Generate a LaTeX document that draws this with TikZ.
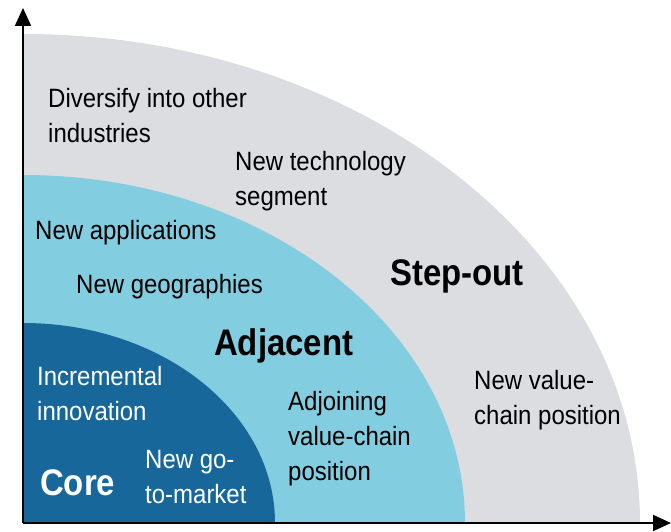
\documentclass[tikz,border=0pt]{standalone}
\usepackage{fontspec}
\setmainfont[FakeStretch=0.905]{Liberation Sans}
\newfontfamily\labfont[FakeStretch=0.89]{Liberation Sans Bold}
\usetikzlibrary{arrows.meta}
\definecolor{stepgray}{RGB}{220,221,225}
\definecolor{adjblue}{RGB}{131,205,224}
\definecolor{coreblue}{RGB}{23,103,154}
\tikzset{
  txt/.style={anchor=base west, inner sep=0pt, align=left, text=black,
    font=\fontsize{26.5}{35}\selectfont},
  wtxt/.style={txt, text=white},
  lab/.style={anchor=base west, inner sep=0pt, font=\labfont\fontsize{37}{40}\selectfont},
  axis/.style={line width=2pt, -{Triangle[length=18pt,width=16pt]}}
}
\begin{document}
\begin{tikzpicture}[x=1pt,y=1pt]
\useasboundingbox (0,0) rectangle (671,531);
\coordinate (o) at (23,8);
\coordinate (ytop) at (23,523);
\coordinate (xend) at (671,8);
\fill[stepgray] (o) -- ++(617,0) arc[start angle=0,end angle=90,x radius=617,y radius=489] -- cycle;
\fill[adjblue] (o) -- ++(442,0) arc[start angle=0,end angle=90,x radius=442,y radius=348] -- cycle;
\fill[coreblue] (o) -- ++(252,0) arc[start angle=0,end angle=90,x radius=252,y radius=200] -- cycle;
\draw[axis] (o) -- (ytop);
\draw[axis] (o) -- (xend);
\node[txt] (div) at (48,388) {Diversify into other\\industries};
\node[txt] (tech) at (235,326) {New technology\\segment};
\node[txt] (app) at (35,292) {New applications};
\node[txt] (geo) at (76,238) {New geographies};
\node[lab] (step) at (390,246) {Step-out};
\node[lab] (adj) at (214,176) {Adjacent};
\node[wtxt] (inc) at (37,111) {Incremental\\innovation};
\node[wtxt] (gtm) at (145,28) {New go-\\to-market};
\node[lab, text=white] (core) at (40,36) {Core};
\node[txt] (adjv) at (288,51) {Adjoining\\value-chain\\position};
\node[txt] (nvc) at (474,107) {New value-\\chain position};
\end{tikzpicture}
\end{document}
